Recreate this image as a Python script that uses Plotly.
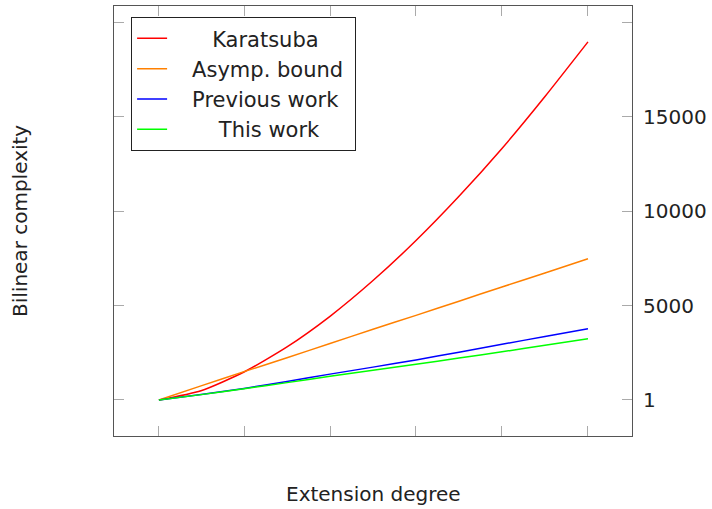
import plotly.graph_objects as go

# Extension degree (x) and bilinear complexity (y)
degree = [1, 50, 100, 150, 200, 250, 300, 350, 400, 450, 500]
karatsuba = [1, 490, 1480, 2810, 4430, 6320, 8440, 10780, 13310, 16060, 18950]
asymp_bound = [1, 750, 1500, 2240, 2990, 3740, 4480, 5230, 5980, 6720, 7470]
previous_work = [1, 290, 615, 980, 1370, 1740, 2120, 2530, 2950, 3360, 3772]
this_work = [1, 285, 600, 920, 1254, 1570, 1890, 2220, 2550, 2900, 3243]

series_names = ["Karatsuba", "Asymp. bound", "Previous work", "This work"]
series_values = [karatsuba, asymp_bound, previous_work, this_work]
series_colors = ["#ff0000", "#ff8000", "#0000ff", "#00ff00"]
NB = "\u00a0"
legend_lead = [NB * 6, NB * 3, NB * 3, NB * 7]
legend_trail = ["", NB * 1, "", ""]

x_ticks = [0, 100, 200, 300, 400, 500]
y_ticks = [1, 5000, 10000, 15000, 20000]
y_tick_labels = ["1", "5000", "10000", "15000", ""]

FONT = "DejaVu Sans"

fig = go.Figure()
for name, vals, col, lead, trail in zip(series_names, series_values, series_colors,
                                        legend_lead, legend_trail):
    fig.add_trace(go.Scatter(
        x=degree, y=vals, mode="lines", name=lead + name + trail,
        line=dict(color=col, width=1.5, shape="spline", smoothing=0.6),
    ))

fig.update_layout(
    width=712, height=509,
    margin=dict(l=114, r=80, t=6, b=73, autoexpand=False),
    paper_bgcolor="white", plot_bgcolor="white",
    font=dict(family=FONT, size=20, color="#222222"),
    showlegend=True,
    legend=dict(
        x=0.033, y=0.974, xanchor="left", yanchor="top",
        bgcolor="white", bordercolor="#222222", borderwidth=1,
        font=dict(family=FONT, size=21, color="#222222"),
        tracegroupgap=0, itemwidth=30,
    ),
    xaxis=dict(
        range=[-51.2, 551.2], tickvals=x_ticks, showticklabels=False,
        ticks="inside", ticklen=10, tickcolor="#aaaaaa", tickwidth=1,
        showline=True, linecolor="#555555", linewidth=1.2, mirror="ticks",
        showgrid=False, zeroline=False, automargin=False,
    ),
    yaxis=dict(
        range=[-1904, 20847], side="right",
        tickvals=y_ticks, ticktext=y_tick_labels,
        ticks="inside", ticklen=10, tickcolor="#aaaaaa", tickwidth=1,
        showline=True, linecolor="#555555", linewidth=1.2, mirror="ticks",
        showgrid=False, zeroline=False, automargin=False,
        tickfont=dict(family=FONT, size=20, color="#222222"),
        ticklabelstandoff=6,
    ),
    annotations=[
        dict(text="Extension degree", xref="paper", yref="paper", x=0.5, y=0,
             yshift=-58, xanchor="center", yanchor="middle", showarrow=False,
             font=dict(family=FONT, size=20, color="#222222")),
        dict(text="Bilinear complexity", xref="paper", yref="paper", x=0, y=0.5,
             xshift=-94, xanchor="center", yanchor="middle", showarrow=False,
             textangle=-90, font=dict(family=FONT, size=20, color="#222222")),
    ],
)

fig.write_html("out.html", config={"displayModeBar": False},
               post_script="document.body.style.margin='0';")
